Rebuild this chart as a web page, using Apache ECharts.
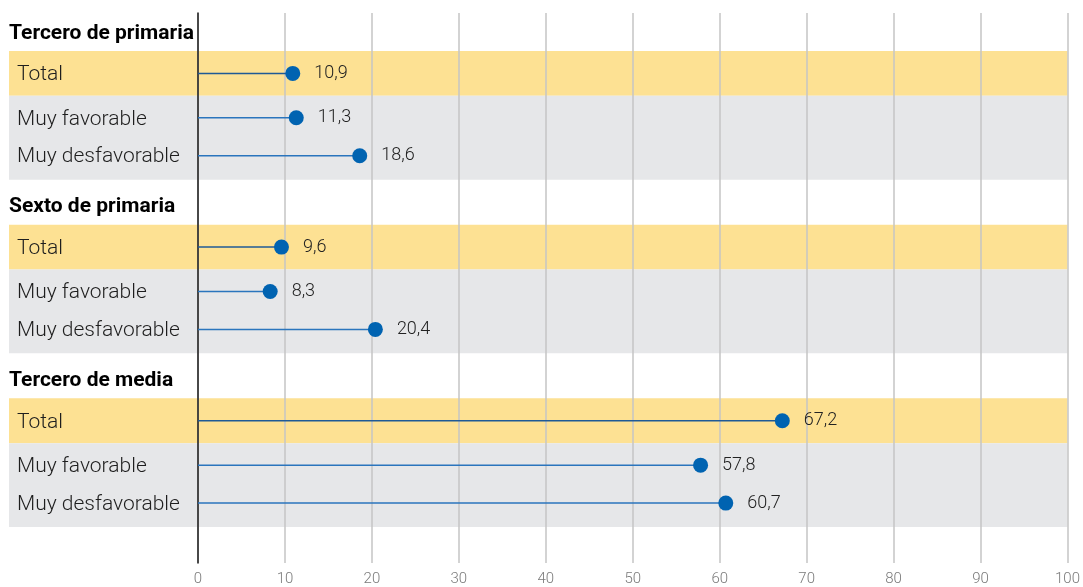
<!DOCTYPE html>
<html>
<head>
<meta charset="utf-8">
<script src="https://cdn.jsdelivr.net/npm/echarts@6/dist/echarts.min.js"></script>
<style>
  html, body { margin: 0; padding: 0; background: #fff; }
  #chart { width: 1083px; height: 587px; }
</style>
</head>
<body>
<div id="chart"></div>
<script>
// Grade groups and the rows shown within each group
const groups = ['Tercero de primaria', 'Sexto de primaria', 'Tercero de media'];
const rowLabels = ['Total', 'Muy favorable', 'Muy desfavorable'];

// Percentages per group, in the order of rowLabels
const terceroPrimaria = [10.9, 11.3, 18.6];
const sextoPrimaria = [9.6, 8.3, 20.4];
const terceroMedia = [67.2, 57.8, 60.7];

// Value axis ticks
const xTicks = [0, 10, 20, 30, 40, 50, 60, 70, 80, 90, 100];

const groupValues = [terceroPrimaria, sextoPrimaria, terceroMedia];

// Vertical layout in slot units (one group occupies 4 slots)
const GROUP_STEP = 4;
const HEADER_POS = 0.437;
const ROW_POS = [1.391, 2.414, 3.287];
const YELLOW_BAND = [0.874, 1.908];
const GREY_BAND = [1.908, 3.839];
const Y_MAX = 12.667;

const BAND_LEFT = 189;   // band extends this many px left of the zero line
const LABEL_LEFT = 181;  // row label starts this many px left of the zero line
const HEADER_LEFT = 189;
const TEXT_NUDGE = 1.5;  // optical baseline correction for the row text

function fmt(v) { return v.toFixed(1).replace('.', ','); }

const pointData = [];
const labelData = [];
const bandData = [];
groups.forEach((g, gi) => {
  const base = gi * GROUP_STEP;
  labelData.push({ value: [0, base + HEADER_POS], name: g, kind: 'header' });
  bandData.push({ value: [base + YELLOW_BAND[0], base + YELLOW_BAND[1]], kind: 'total' });
  bandData.push({ value: [base + GREY_BAND[0], base + GREY_BAND[1]], kind: 'sub' });
  rowLabels.forEach((r, ri) => {
    const y = base + ROW_POS[ri];
    labelData.push({ value: [0, y], name: r, kind: 'row' });
    pointData.push({ value: [groupValues[gi][ri], y], kind: ri === 0 ? 'total' : 'sub' });
  });
});

const chart = echarts.init(document.getElementById('chart'), null, { renderer: 'canvas' });

chart.setOption({
  animation: false,
  textStyle: { fontFamily: 'Roboto' },
  grid: { left: 198, right: 15.5, top: 13, bottom: 23, containLabel: false },
  xAxis: {
    type: 'value', min: 0, max: 100, interval: 10, z: 2,
    axisLine: { show: false },
    axisTick: { show: false },
    axisLabel: { color: '#7a7a7a', fontSize: 15, fontWeight: 300, margin: 9, fontFamily: 'Roboto',
      formatter: v => xTicks.includes(v) ? String(v) : '' },
    splitLine: { show: true, lineStyle: { color: '#c4c4c4', width: 1.5 } }
  },
  yAxis: {
    type: 'value', min: 0, max: Y_MAX, inverse: true, z: 2,
    axisLine: { show: true, lineStyle: { color: '#1a1a1a', width: 1.5 } },
    axisTick: { show: false },
    axisLabel: { show: false },
    splitLine: { show: false }
  },
  series: [
    {
      // background bands for each group
      type: 'custom', z: 1, silent: true,
      data: bandData.map(d => ({ value: d.value, kind: d.kind })),
      renderItem: (params, api) => {
        const d = bandData[params.dataIndex];
        const p0 = api.coord([0, d.value[0]]);
        const p1 = api.coord([100, d.value[1]]);
        return {
          type: 'rect',
          shape: { x: p0[0] - BAND_LEFT, y: p0[1], width: p1[0] - p0[0] + BAND_LEFT, height: p1[1] - p0[1] },
          style: { fill: d.kind === 'total' ? '#fde193' : '#e6e7e9' }
        };
      },
      clip: false
    },
    {
      // stems from zero to each value
      type: 'custom', z: 3, silent: true,
      data: pointData.map(d => d.value),
      renderItem: (params, api) => {
        const d = pointData[params.dataIndex];
        const a = api.coord([0, d.value[1]]);
        const b = api.coord([d.value[0], d.value[1]]);
        return {
          type: 'line',
          shape: { x1: a[0], y1: a[1], x2: b[0], y2: b[1] },
          style: { stroke: d.kind === 'total' ? '#1f5a96' : '#2a75bd', lineWidth: 1.5 }
        };
      }
    },
    {
      // value dots with their labels
      type: 'scatter', z: 4, symbol: 'circle', symbolSize: 15,
      itemStyle: { color: '#0063b1', opacity: 1 },
      data: pointData.map(d => d.value),
      label: {
        show: true, position: 'right', distance: 14,
        color: '#222', fontSize: 18, fontWeight: 300, fontFamily: 'Roboto',
        formatter: p => fmt(p.value[0])
      }
    },
    {
      // group headers and row names
      type: 'custom', z: 5, silent: true, clip: false,
      data: labelData.map(d => d.value),
      renderItem: (params, api) => {
        const d = labelData[params.dataIndex];
        const p = api.coord([0, d.value[1]]);
        const header = d.kind === 'header';
        return {
          type: 'text',
          style: {
            x: p[0] - (header ? HEADER_LEFT : LABEL_LEFT),
            y: p[1] + TEXT_NUDGE,
            text: d.name,
            textAlign: 'left',
            textVerticalAlign: 'middle',
            fill: header ? '#000' : '#1e1e1e',
            font: header ? 'bold 21px Roboto' : '300 21px Roboto'
          }
        };
      }
    }
  ]
});
</script>
</body>
</html>
